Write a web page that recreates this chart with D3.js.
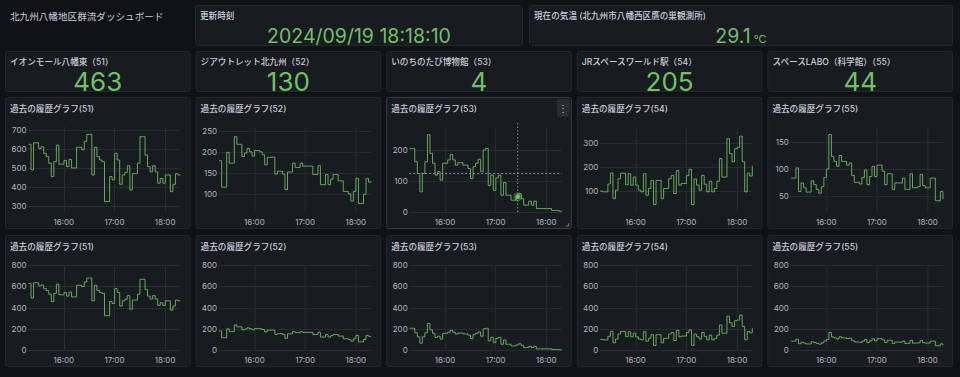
<!DOCTYPE html>
<html>
<head>
<meta charset="utf-8">
<script src="https://cdn.jsdelivr.net/npm/d3@7"></script>
<style>
  html, body { margin: 0; padding: 0; background: #111217; }
  svg { display: block; font-family: Inter, "Noto Sans CJK JP", sans-serif; }
</style>
</head>
<body>
<script>
// Dashboard texts.
const dashboardTitle = "北九州八幡地区群流ダッシュボード";
const updateTitle = "更新時刻";
const updateValue = "2024/09/19 18:18:10";
const tempTitle = "現在の気温 (北九州市八幡西区鷹の巣観測所)";
const tempValue = "29.1";
const tempUnit = "°C";

// Stat panels: one per station.
const categories = ["イオンモール八幡東（51）", "ジアウトレット北九州（52）", "いのちのたび博物館（53）",
                    "JRスペースワールド駅（54）", "スペースLABO（科学館）（55）"];
const stationIds = [51, 52, 53, 54, 55];
const currentValues = [463, 130, 4, 205, 44];

// History, one value every 3 minutes from 15:18:10 to 18:18:10.
const series51 = [625, 490, 633, 633, 603, 612, 577, 560, 525, 455, 533, 620, 520, 520, 540, 507,
                  545, 500, 500, 609, 609, 596, 640, 677, 677, 463, 609, 560, 542, 533, 323, 323,
                  455, 437, 577, 542, 414, 463, 477, 512, 384, 470, 470, 525, 665, 665, 568, 507,
                  480, 512, 480, 420, 445, 420, 463, 463, 375, 414, 470, 463, 463];
const series52 = [179, 116, 116, 199, 173, 173, 236, 218, 218, 189, 197, 208, 200, 190, 203, 203,
                  200, 193, 169, 187, 187, 187, 147, 154, 154, 147, 110, 152, 152, 173, 163, 163,
                  173, 166, 166, 166, 166, 146, 146, 167, 122, 122, 146, 122, 135, 146, 146, 131,
                  131, 106, 106, 100, 83, 106, 137, 77, 77, 99, 137, 128, 130];
const series53 = [205, 205, 162, 124, 65, 124, 162, 249, 189, 157, 119, 130, 103, 157, 157, 168,
                  185, 168, 151, 159, 159, 151, 151, 140, 108, 146, 157, 170, 130, 200, 205, 86,
                  119, 70, 110, 119, 54, 95, 54, 54, 38, 38, 49, 59, 43, 22, 22, 35,
                  22, 35, 11, 11, 11, 11, 11, 11, 5, 5, 5, 2, 4];
const series54 = [99, 96, 96, 129, 175, 68, 103, 151, 174, 174, 126, 172, 124, 158, 124, 103,
                  96, 172, 82, 110, 144, 43, 144, 144, 68, 110, 110, 151, 165, 89, 185, 124,
                  131, 131, 164, 190, 43, 150, 124, 103, 165, 128, 96, 140, 96, 110, 140, 235,
                  158, 158, 318, 256, 222, 276, 282, 329, 222, 96, 174, 162, 205];
const series55 = [83, 83, 102, 58, 74, 65, 57, 57, 78, 71, 62, 55, 67, 84, 100, 164,
                  123, 114, 105, 125, 114, 114, 107, 111, 88, 75, 75, 72, 84, 98, 71, 86,
                  105, 86, 107, 107, 96, 71, 91, 91, 62, 74, 74, 74, 83, 62, 62, 91,
                  65, 65, 67, 90, 69, 65, 65, 83, 83, 41, 41, 58, 44];
const allSeries = [series51, series52, series53, series54, series55];

// Axis settings.
const row1Domains = [[268, 716], [57, 259], [0, 274], [12, 367], [20, 178]];
const row1Ticks = [[300, 400, 500, 600, 700], [100, 150, 200, 250], [0, 100, 200],
                   [100, 200, 300], [50, 100, 150]];
const row2Domain = [0, 800];
const row2Ticks = [0, 200, 400, 600, 800];
const startTime = new Date(2024, 8, 19, 15, 18, 10);
const endTime = new Date(2024, 8, 19, 18, 18, 10);
const STEP_MINUTES = 3;

// Hover state shown on the (53) panel.
const hoverTime = new Date(2024, 8, 19, 17, 26, 5);
const hoverY = 124;

// Layout.
const W = 960, H = 377;
const GAP = 5;
const RIGHT = 953;
const COL_W = (RIGHT - GAP - 4 * GAP) / 5;
const colX = i => GAP + i * (COL_W + GAP);
const TEXT = "#ccccdc";
const AXIS_TEXT = "#b4b5bf";
const GREEN = "#73bf69";
const GRID = "#2a2c31";

const svg = d3.select("body").append("svg")
    .attr("width", W)
    .attr("height", H);

svg.append("rect").attr("width", W).attr("height", H).attr("fill", "#111217");

// Draws an empty panel with its title.
function panel(x, y, w, h, title, titleY, hover) {
    const g = svg.append("g").attr("transform", `translate(${x},${y})`);
    g.append("rect")
        .attr("x", 0.5).attr("y", 0.5)
        .attr("width", w - 1).attr("height", h - 1)
        .attr("rx", 2)
        .attr("fill", "#181b1f")
        .attr("stroke", hover ? "#3a3c43" : "#25272c");
    g.append("text")
        .attr("x", 5).attr("y", titleY)
        .attr("fill", TEXT)
        .attr("font-size", 8.6)
        .attr("font-weight", 500)
        .text(title);
    return g;
}

// Dashboard title.
svg.append("text")
    .attr("x", 10).attr("y", 20)
    .attr("fill", TEXT)
    .attr("font-size", 9.6)
    .text(dashboardTitle);

// Update time panel.
const pUpd = panel(195, 5, 328, 41, updateTitle, 13.5);
pUpd.append("text")
    .attr("x", 164).attr("y", 37.5)
    .attr("text-anchor", "middle")
    .attr("fill", GREEN)
    .attr("font-size", 19.5)
    .text(updateValue);

// Temperature panel.
const pTemp = panel(529, 5, RIGHT - 529, 41, tempTitle, 13.5);
const tempText = pTemp.append("text")
    .attr("x", (RIGHT - 529) / 2).attr("y", 37.5)
    .attr("text-anchor", "middle")
    .attr("fill", GREEN);
tempText.append("tspan").attr("font-size", 19.5).text(tempValue);
tempText.append("tspan").attr("font-size", 11).attr("dx", 3).text(tempUnit);

// Stat panels.
categories.forEach((name, i) => {
    const p = panel(colX(i), 51, COL_W, 41, name, 13.5);
    p.append("text")
        .attr("x", COL_W / 2).attr("y", 39.5)
        .attr("text-anchor", "middle")
        .attr("fill", GREEN)
        .attr("font-size", 26)
        .text(currentValues[i]);
});

// Time series panels.
const times = series51.map((d, i) => d3.timeMinute.offset(startTime, i * STEP_MINUTES));

function timeSeriesPanel(i, top, domain, ticks, hover) {
    const x0 = colX(i);
    const ph = 132;
    const p = panel(x0, top, COL_W, ph, `過去の履歴グラフ(${stationIds[i]})`, 15, hover);
    const plotTop = 30, plotBottom = 115;

    const x = d3.scaleTime()
        .domain([startTime, endTime])
        .range([23.5, 175.5]);
    const y = d3.scaleLinear()
        .domain(domain)
        .range([plotBottom, plotTop]);

    // Horizontal grid and y labels.
    p.append("g").selectAll("line")
        .data(ticks)
        .join("line")
        .attr("x1", 23).attr("x2", 175.5)
        .attr("y1", d => Math.round(y(d)) + 0.5)
        .attr("y2", d => Math.round(y(d)) + 0.5)
        .attr("stroke", GRID);
    p.append("g").selectAll("text")
        .data(ticks)
        .join("text")
        .attr("x", 21.5)
        .attr("y", d => y(d) + 3)
        .attr("text-anchor", "end")
        .attr("fill", AXIS_TEXT)
        .attr("font-size", 8)
        .text(d => d);

    // Vertical grid and time labels.
    const hours = x.ticks(d3.timeHour.every(1));
    p.append("g").selectAll("line")
        .data(hours)
        .join("line")
        .attr("x1", d => Math.round(x(d)) + 0.5)
        .attr("x2", d => Math.round(x(d)) + 0.5)
        .attr("y1", plotTop).attr("y2", plotBottom)
        .attr("stroke", GRID);
    p.append("g").selectAll("text")
        .data(hours)
        .join("text")
        .attr("x", d => x(d))
        .attr("y", plotBottom + 13)
        .attr("text-anchor", "middle")
        .attr("fill", AXIS_TEXT)
        .attr("font-size", 8)
        .text(d3.timeFormat("%H:%M"));

    // The series as a step line.
    const line = d3.line()
        .x((d, j) => x(times[j]))
        .y(d => y(d))
        .curve(d3.curveStepAfter);
    p.append("path")
        .datum(allSeries[i])
        .attr("d", line)
        .attr("fill", "none")
        .attr("stroke", GREEN)
        .attr("stroke-opacity", 0.85)
        .attr("stroke-width", 1);

    if (hover) {
        const hx = x(hoverTime);
        const idx = d3.bisectRight(times, hoverTime) - 1;
        const hv = allSeries[i][idx];
        p.append("line")
            .attr("x1", hx).attr("x2", hx)
            .attr("y1", plotTop - 4).attr("y2", plotBottom)
            .attr("stroke", "#8b93a3").attr("stroke-dasharray", "1.5,2");
        p.append("line")
            .attr("x1", 23).attr("x2", 175.5)
            .attr("y1", y(hoverY)).attr("y2", y(hoverY))
            .attr("stroke", "#8b93a3").attr("stroke-dasharray", "2,2");
        p.append("circle").attr("cx", hx).attr("cy", y(hv)).attr("r", 4.5)
            .attr("fill", GREEN).attr("fill-opacity", 0.35);
        p.append("circle").attr("cx", hx).attr("cy", y(hv)).attr("r", 2.3)
            .attr("fill", GREEN);
        // Panel menu button.
        p.append("rect")
            .attr("x", COL_W - 15).attr("y", 2)
            .attr("width", 13).attr("height", 18)
            .attr("rx", 2).attr("fill", "#2a2c32");
        p.append("text")
            .attr("x", COL_W - 8.5).attr("y", 14.5)
            .attr("text-anchor", "middle")
            .attr("fill", TEXT).attr("font-size", 10)
            .text("⋮");
        // Resize handle.
        p.append("path")
            .attr("d", `M${COL_W - 3},${ph - 6}L${COL_W - 3},${ph - 3}L${COL_W - 6},${ph - 3}`)
            .attr("fill", "none").attr("stroke", "#8b93a3").attr("stroke-width", 0.8);
    }
}

allSeries.forEach((s, i) => timeSeriesPanel(i, 97, row1Domains[i], row1Ticks[i], i === 2));
allSeries.forEach((s, i) => timeSeriesPanel(i, 235, row2Domain, row2Ticks, false));
</script>
</body>
</html>
